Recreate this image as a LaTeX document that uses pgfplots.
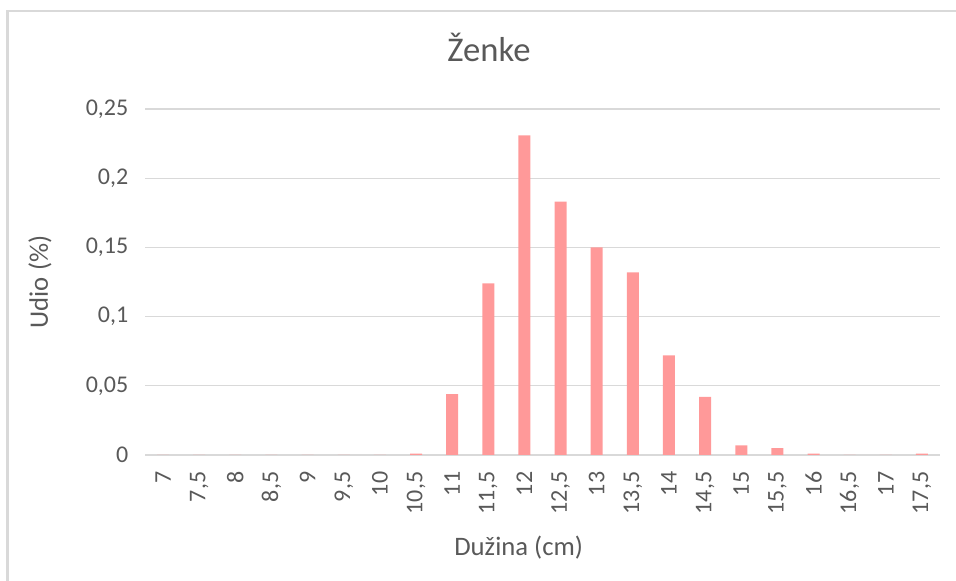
\documentclass[border=0pt]{standalone}
\usepackage{fontspec}
\setmainfont{Carlito}
\usepackage{pgfplots}
\pgfplotsset{compat=1.18}
\definecolor{txt}{HTML}{595959}
\definecolor{gridc}{HTML}{D9D9D9}
\definecolor{barc}{HTML}{FF9999}

\begin{document}
\begin{tikzpicture}[x=0.75pt,y=0.75pt]
% picture frame, 956 x 581 px
\path[use as bounding box] (0,0) rectangle (956,581);
\draw[gridc, line width=1.6pt] (7.5,0) -- (7.5,570) -- (956,570);
\begin{axis}[
  at={(108.75pt,94.5pt)}, anchor=south west,
  scale only axis,
  width=596.25pt, height=259.5pt,
  ybar, bar width=9pt,
  xmin=-0.5, xmax=21.5,
  ymin=0, ymax=0.25,
  xtick={0,...,21},
  xticklabels={7,{7,5},8,{8,5},9,{9,5},10,{10,5},11,{11,5},12,{12,5},13,{13,5},14,{14,5},15,{15,5},16,{16,5},17,{17,5}},
  ytick={0,0.05,0.1,0.15,0.2,0.25},
  /pgf/number format/use comma,
  /pgf/number format/fixed,
  /pgf/number format/precision=2,
  /pgf/number format/assume math mode=true,
  axis line style={draw=none},
  axis x line*=bottom,
  axis y line*=left,
  major tick length=0pt,
  ymajorgrids, grid style={gridc, line width=1pt},
  tick label style={font=\fontsize{18}{18}\selectfont, text=txt},
  xticklabel style={rotate=90, anchor=east, xshift=-9pt},
  yticklabel style={xshift=-9pt},
  title={Ženke},
  title style={font=\fontsize{26}{26}\selectfont, text=txt, at={(axis description cs:0.4327,1.156)}, anchor=center},
  xlabel={Dužina (cm)},
  xlabel style={font=\fontsize{20}{20}\selectfont, text=txt, at={(axis description cs:0.470,-0.269)}, anchor=center},
  ylabel={Udio (\%)},
  ylabel style={font=\fontsize{20}{20}\selectfont, text=txt, at={(axis description cs:-0.132,0.5)}, anchor=center},
]
\addplot[fill=barc, draw=none] coordinates {
  (0,0) (1,0) (2,0) (3,0) (4,0) (5,0) (6,0)
  (7,0.001) (8,0.044) (9,0.124) (10,0.231) (11,0.183)
  (12,0.150) (13,0.132) (14,0.072) (15,0.042) (16,0.007)
  (17,0.005) (18,0.001) (19,0) (20,0) (21,0.001)
};
\end{axis}
\end{tikzpicture}
\end{document}
